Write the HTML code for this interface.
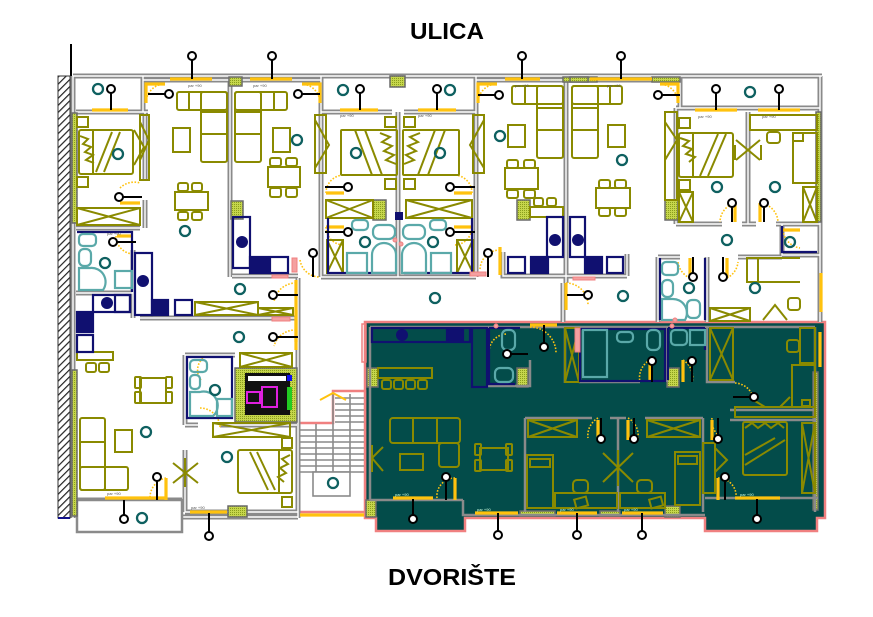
<!DOCTYPE html>
<html><head><meta charset="utf-8">
<style>
html,body{margin:0;padding:0;background:#fff;}
svg{display:block;}
</style></head><body>
<svg width="873" height="617" viewBox="0 0 873 617" xmlns="http://www.w3.org/2000/svg">
<defs>
<pattern id="hatch" width="5" height="5" patternUnits="userSpaceOnUse" patternTransform="rotate(45)">
<rect width="5" height="5" fill="#fff"/><line x1="0" y1="0" x2="0" y2="5" stroke="#222" stroke-width="2.4"/>
</pattern>
<pattern id="grn" width="2" height="2" patternUnits="userSpaceOnUse"><rect width="2" height="2" fill="#c6d64c"/><rect width="1" height="1" fill="#8a9e1c"/></pattern>
<g id="W" fill="none">
<path d="M73 76 H822 M73 76 V518 M820 76 V322
M76 112 H148 M143 76 V112 M143 80 H230 M230 80 V277 M242 80 H321
M321 76 V277 M321 112 H392 M398 112 V277 M404 112 H476 M476 76 V277 M476 80 H568
M566 80 V283 M568 80 H680 M680 76 V108 M676 108 H820 M676 108 V224
M676 224 H722 M742 224 H756 M776 224 H820 M748 112 V224 M782 224 V255 H820
M658 257 H680 M738 257 H782 M658 257 V322 M707 257 V322
M145 112 V180 M145 200 V228 M76 228 H140 M76 293 H133 M133 250 V318 M140 318 H298
M298 278 V518 M232 276 H298 M321 277 H476 M503 252 V276 H627 M627 254 V276 M563 283 V322
M185 355 H235 M185 355 V425 M185 425 H198 M220 425 H297 M185 450 V512 M76 500 H182 M185 512 H298 M76 517 H298"/>
</g>
</defs>

<!-- titles -->
<text x="410" y="39" font-family="Liberation Sans, DejaVu Sans, sans-serif" font-weight="bold" font-size="23" textLength="74" lengthAdjust="spacingAndGlyphs">ULICA</text>
<text x="388" y="585" font-family="Liberation Sans, DejaVu Sans, sans-serif" font-weight="bold" font-size="23" textLength="128" lengthAdjust="spacingAndGlyphs">DVORIŠTE</text>

<!-- left hatch wall -->
<line x1="71" y1="44" x2="71" y2="76" stroke="#000" stroke-width="2"/>
<rect x="58" y="76" width="12" height="442" fill="url(#hatch)" stroke="#333" stroke-width="1"/>
<line x1="58" y1="518" x2="70" y2="518" stroke="#10108a" stroke-width="2"/>

<!-- dark apartment -->
<polygon points="365,322 825,322 825,518 817,518 817,531 705,531 705,518 465,518 465,531 376,531 376,518 365,518" fill="#034c4a" stroke="#f08080" stroke-width="2.5"/>
<rect x="362" y="324" width="4" height="38" fill="none" stroke="#f08080" stroke-width="1.5"/>

<!-- stairs -->
<polygon points="298,423 333,423 333,391 365,391 365,512 298,512" fill="#fff" stroke="#f08080" stroke-width="2.5"/>
<g stroke="#8a8a8a" stroke-width="1.6">
<line x1="300" y1="430" x2="364" y2="430"/><line x1="300" y1="436" x2="364" y2="436"/><line x1="300" y1="442" x2="364" y2="442"/>
<line x1="300" y1="448" x2="364" y2="448"/><line x1="300" y1="454" x2="364" y2="454"/><line x1="300" y1="460" x2="364" y2="460"/>
<line x1="300" y1="466" x2="364" y2="466"/><line x1="300" y1="472" x2="364" y2="472"/>
<line x1="335" y1="398" x2="364" y2="398"/><line x1="335" y1="404" x2="364" y2="404"/><line x1="335" y1="410" x2="364" y2="410"/>
<line x1="335" y1="416" x2="364" y2="416"/><line x1="335" y1="422" x2="364" y2="422"/>
<line x1="333" y1="394" x2="333" y2="472"/><line x1="316" y1="424" x2="316" y2="472"/><line x1="350" y1="394" x2="350" y2="472"/>
</g>
<rect x="313" y="472" width="37" height="24" fill="#fff" stroke="#8a8a8a" stroke-width="1.6"/>
<polyline points="320,400 333,393 346,400" fill="none" stroke="#ffc20e" stroke-width="2"/>

<!-- walls -->
<use href="#W" stroke="#8a8a8a" stroke-width="5"/>
<use href="#W" stroke="#fff" stroke-width="1.4"/>

<!-- balconies bottom left -->
<rect x="77" y="500" width="105" height="32" fill="#fff" stroke="#8a8a8a" stroke-width="2.5"/>

<!-- green hatched blocks -->
<g fill="url(#grn)" stroke="#6a6a6a" stroke-width="1.5">
<rect x="72" y="113" width="5" height="110"/><rect x="72" y="370" width="5" height="146"/>
<rect x="816" y="112" width="5" height="110"/>
<rect x="229" y="77" width="13" height="9"/><rect x="390" y="76" width="15" height="11"/>
<rect x="563" y="77" width="34" height="5"/><rect x="570" y="77" width="18" height="5"/><rect x="652" y="77" width="28" height="5"/>
<rect x="231" y="201" width="12" height="18"/><rect x="373" y="200" width="13" height="20"/>
<rect x="517" y="200" width="13" height="20"/><rect x="665" y="200" width="13" height="20"/>
<rect x="235" y="368" width="62" height="54"/>
<rect x="228" y="506" width="19" height="11"/>
<rect x="367" y="368" width="11" height="19"/><rect x="517" y="368" width="11" height="19"/><rect x="667" y="368" width="12" height="19"/>
<rect x="813" y="372" width="5" height="138"/>
<rect x="520" y="511" width="35" height="5"/><rect x="600" y="511" width="20" height="5"/><rect x="665" y="506" width="15" height="11"/>
<rect x="366" y="500" width="10" height="17"/>
</g>

<!-- elevator -->
<rect x="245" y="373" width="45" height="42" fill="#111"/>
<rect x="248" y="376" width="38" height="5" fill="#fff"/>
<rect x="247" y="392" width="13" height="11" fill="none" stroke="#e020e0" stroke-width="2"/>
<rect x="262" y="387" width="15" height="20" fill="none" stroke="#e020e0" stroke-width="2"/>
<rect x="287" y="387" width="5" height="23" fill="#22cc22"/>
<rect x="287" y="375" width="5" height="6" fill="#1010ee"/>

<!-- dark region walls -->
<path d="M370 327 V500 M370 327 H815 M815 327 V512 M488 327 V386 H530 V360 M565 327 V383 M580 328 V382 H640 M667 327 V382 M707 327 V382 H735
M525 418 H592 M610 418 H626 M645 418 H703 M525 418 V512 M618 418 V512 M703 418 V512 M730 410 H815 M730 420 H815 M370 500 H463 M463 500 V515 H705 M705 498 H818"
fill="none" stroke="#8a8a8a" stroke-width="2.5"/>

<!-- windows (yellow) -->
<g stroke="#ffc20e" stroke-width="3.2" fill="none">
<line x1="170" y1="79" x2="212" y2="79"/><line x1="250" y1="79" x2="292" y2="79"/>
<line x1="505" y1="79" x2="540" y2="79"/><line x1="590" y1="79" x2="652" y2="79"/>
<line x1="92" y1="110" x2="128" y2="110"/><line x1="340" y1="110" x2="378" y2="110"/><line x1="418" y1="110" x2="456" y2="110"/>
<line x1="695" y1="110" x2="737" y2="110"/><line x1="758" y1="110" x2="800" y2="110"/>
<polyline points="146,103 146,84 165,84"/><polyline points="320,103 320,84 302,84"/>
<polyline points="478,103 478,84 497,84"/><polyline points="678,103 678,84 660,84"/>
<line x1="105" y1="498" x2="167" y2="498"/><line x1="190" y1="512" x2="227" y2="512"/>
<line x1="300" y1="515" x2="364" y2="515"/>
<line x1="393" y1="498" x2="433" y2="498"/><line x1="475" y1="513" x2="518" y2="513"/>
<line x1="557" y1="513" x2="597" y2="513"/><line x1="622" y1="513" x2="663" y2="513"/>
<line x1="735" y1="498" x2="780" y2="498"/>
<line x1="296" y1="280" x2="296" y2="342"/><line x1="296" y1="310" x2="296" y2="350"/>
<line x1="566" y1="283" x2="566" y2="310"/><line x1="500" y1="247" x2="500" y2="275"/>
<line x1="821" y1="273" x2="821" y2="312"/><line x1="820" y1="332" x2="820" y2="367"/>
<line x1="530" y1="325" x2="557" y2="325"/><line x1="650" y1="360" x2="650" y2="382"/><line x1="683" y1="360" x2="683" y2="382"/>
<line x1="598" y1="420" x2="598" y2="440"/><line x1="628" y1="420" x2="628" y2="440"/><line x1="712" y1="420" x2="712" y2="440"/>
<line x1="455" y1="478" x2="455" y2="500"/><line x1="718" y1="478" x2="718" y2="500"/>
<line x1="735" y1="203" x2="735" y2="222"/><line x1="760" y1="203" x2="760" y2="222"/>
<line x1="690" y1="258" x2="690" y2="278"/><line x1="727" y1="258" x2="727" y2="278"/>
<line x1="783" y1="230" x2="800" y2="230"/><line x1="120" y1="203" x2="140" y2="203"/><line x1="117" y1="236" x2="133" y2="236"/>
<line x1="326" y1="193" x2="344" y2="193"/><line x1="454" y1="193" x2="472" y2="193"/>
<line x1="326" y1="227" x2="344" y2="227"/><line x1="454" y1="227" x2="472" y2="227"/>
<line x1="136" y1="414" x2="165" y2="414" stroke-width="0"/>
<line x1="202" y1="408" x2="232" y2="408" stroke-width="0"/>
<line x1="544" y1="357" x2="544" y2="380" stroke-width="0"/>
<line x1="313" y1="262" x2="313" y2="277" stroke-width="0"/>
<line x1="166" y1="478" x2="166" y2="500"/>
<line x1="200" y1="352" x2="200" y2="367" stroke-width="0"/>
</g>
<!-- door swings -->
<g stroke="#ffc20e" stroke-width="1.6" stroke-dasharray="1.6 1.6" fill="none">
<path d="M146 103 A19 19 0 0 1 165 84"/><path d="M320 103 A19 19 0 0 0 302 84"/>
<path d="M478 103 A19 19 0 0 1 497 84"/><path d="M678 103 A19 19 0 0 0 660 84"/>
<path d="M120 188 A20 20 0 0 1 140 183"/><path d="M116 236 A18 18 0 0 0 134 254"/>
<path d="M326 193 A18 18 0 0 1 344 175"/><path d="M472 193 A18 18 0 0 0 454 175"/>
<path d="M326 227 A18 18 0 0 0 344 245"/><path d="M472 227 A18 18 0 0 1 454 245"/>
<path d="M300 260 A20 20 0 0 0 320 277"/><path d="M500 250 A20 20 0 0 0 480 270"/>
<path d="M296 283 A22 22 0 0 0 274 302"/><path d="M296 330 A22 22 0 0 0 274 346"/>
<path d="M566 283 A22 22 0 0 1 588 305"/>
<path d="M735 203 A20 20 0 0 0 720 222"/><path d="M760 203 A20 20 0 0 1 778 222"/>
<path d="M783 230 A20 20 0 0 0 800 248"/>
<path d="M690 278 A20 20 0 0 1 678 262"/><path d="M727 278 A20 20 0 0 0 738 262"/>
<path d="M200 408 A20 20 0 0 1 220 428"/><path d="M166 478 A20 20 0 0 0 150 498"/>
<path d="M201 380 A16 16 0 0 1 206 356"/>
<path d="M530 327 A26 26 0 0 1 556 353"/><path d="M489 352 A18 18 0 0 1 507 334"/>
<path d="M650 360 A20 20 0 0 0 640 382"/><path d="M683 360 A20 20 0 0 1 692 382"/>
<path d="M735 383 A20 20 0 0 1 754 402"/>
<path d="M598 418 A20 20 0 0 0 588 438"/><path d="M628 418 A20 20 0 0 1 638 438"/>
<path d="M712 418 A20 20 0 0 0 722 438"/>
<path d="M455 478 A18 18 0 0 0 437 498"/><path d="M718 478 A18 18 0 0 1 736 498"/>
</g>

<!-- olive furniture -->
<g stroke="#8a8a00" stroke-width="2" fill="none">
<!-- unit1 -->
<rect x="177" y="92" width="50" height="18" rx="2"/><rect x="201" y="92" width="26" height="70" rx="2"/>
<line x1="201" y1="112" x2="227" y2="112"/><line x1="201" y1="134" x2="227" y2="134"/><line x1="189" y1="92" x2="189" y2="110"/>
<rect x="173" y="128" width="17" height="24"/>
<rect x="175" y="192" width="33" height="18"/>
<rect x="178" y="183" width="10" height="8" rx="2"/><rect x="192" y="183" width="10" height="8" rx="2"/>
<rect x="178" y="212" width="10" height="8" rx="2"/><rect x="192" y="212" width="10" height="8" rx="2"/>
<rect x="79" y="130" width="54" height="44" rx="2"/><line x1="93" y1="130" x2="93" y2="174"/>
<line x1="104" y1="172" x2="120" y2="132"/><line x1="96" y1="172" x2="112" y2="132"/>
<path d="M80 136 l8 3 -5 5 8 3 -6 5 8 3 -7 5 8 3"/>
<rect x="77" y="117" width="11" height="10"/><rect x="77" y="177" width="11" height="10"/>
<rect x="140" y="115" width="9" height="65"/><path d="M140 122 L149 140 L140 160 M134 130 L144 147 L134 165"/>
<rect x="77" y="208" width="63" height="17"/><path d="M77 208 L140 225 M77 225 L140 208"/>
<!-- unit2 -->
<rect x="235" y="92" width="52" height="18" rx="2"/><rect x="235" y="92" width="26" height="70" rx="2"/>
<line x1="235" y1="112" x2="261" y2="112"/><line x1="235" y1="134" x2="261" y2="134"/><line x1="274" y1="92" x2="274" y2="110"/>
<rect x="273" y="128" width="17" height="24"/>
<rect x="268" y="167" width="32" height="20"/>
<rect x="270" y="158" width="11" height="8" rx="2"/><rect x="286" y="158" width="11" height="8" rx="2"/>
<rect x="270" y="188" width="11" height="9" rx="2"/><rect x="286" y="188" width="11" height="9" rx="2"/>
<!-- studios -->
<rect x="341" y="130" width="56" height="45" rx="1"/><rect x="403" y="130" width="56" height="45" rx="1"/>
<path d="M355 130 L372 175 M365 130 L382 175 M445 130 L428 175 M435 130 L418 175"/>
<path d="M380 133 l10 4 -8 5 10 4 -8 5 10 4 -8 5 10 4 M420 133 l-10 4 8 5 -10 4 8 5 -10 4 8 5 -10 4"/>
<rect x="385" y="117" width="11" height="10"/><rect x="404" y="117" width="11" height="10"/>
<rect x="385" y="179" width="11" height="10"/><rect x="404" y="179" width="11" height="10"/>
<rect x="315" y="115" width="11" height="58"/><rect x="473" y="115" width="11" height="58"/>
<path d="M315 120 L329 145 L315 168 M484 120 L470 145 L484 168"/>
<rect x="326" y="200" width="47" height="18"/><path d="M326 200 L373 218 M326 218 L373 200"/>
<rect x="406" y="200" width="66" height="18"/><path d="M406 200 L472 218 M406 218 L472 200"/>
<rect x="327" y="240" width="16" height="33"/><path d="M327 240 L343 273 M327 273 L343 240"/>
<rect x="457" y="240" width="16" height="33"/><path d="M457 240 L473 273 M457 273 L473 240"/>
<!-- unit4 -->
<rect x="512" y="86" width="51" height="18" rx="2"/><rect x="537" y="86" width="26" height="72" rx="2"/>
<line x1="537" y1="108" x2="563" y2="108"/><line x1="537" y1="130" x2="563" y2="130"/><line x1="525" y1="86" x2="525" y2="104"/>
<rect x="508" y="125" width="17" height="22"/>
<rect x="505" y="168" width="33" height="21"/>
<rect x="507" y="160" width="11" height="8" rx="2"/><rect x="524" y="160" width="11" height="8" rx="2"/>
<rect x="507" y="190" width="11" height="8" rx="2"/><rect x="524" y="190" width="11" height="8" rx="2"/>
<rect x="530" y="207" width="33" height="10"/><rect x="534" y="198" width="9" height="8" rx="2"/><rect x="547" y="198" width="9" height="8" rx="2"/>
<!-- unit5 -->
<rect x="572" y="86" width="50" height="18" rx="2"/><rect x="572" y="86" width="26" height="72" rx="2"/>
<line x1="572" y1="108" x2="598" y2="108"/><line x1="572" y1="130" x2="598" y2="130"/><line x1="610" y1="86" x2="610" y2="104"/>
<rect x="608" y="125" width="17" height="22"/>
<rect x="596" y="188" width="34" height="20"/>
<rect x="599" y="180" width="11" height="8" rx="2"/><rect x="615" y="180" width="11" height="8" rx="2"/>
<rect x="599" y="208" width="11" height="8" rx="2"/><rect x="615" y="208" width="11" height="8" rx="2"/>
<!-- right unit -->
<rect x="679" y="133" width="54" height="44" rx="2"/><line x1="693" y1="133" x2="693" y2="177"/>
<path d="M700 176 L718 134 M708 176 L726 134 M680 138 l9 3 -6 5 9 3 -6 5 9 3 -6 5"/>
<rect x="679" y="118" width="11" height="10"/><rect x="679" y="180" width="11" height="10"/>
<rect x="665" y="112" width="12" height="88"/><path d="M665 122 L677 140 L665 160"/>
<rect x="679" y="192" width="14" height="30"/><path d="M679 192 L693 222 M679 222 L693 192"/>
<path d="M736 140 L748 150 L736 160 M760 140 L748 150 L760 160 M735 145 V160 M761 145 V160"/>
<rect x="750" y="115" width="67" height="15"/><rect x="767" y="132" width="13" height="11" rx="3"/>
<rect x="793" y="133" width="24" height="50"/><rect x="793" y="133" width="10" height="8"/>
<rect x="803" y="187" width="14" height="35"/><path d="M803 187 L817 222 M803 222 L817 187"/>
<rect x="747" y="258" width="11" height="24"/><line x1="747" y1="282" x2="800" y2="282"/><line x1="758" y1="258" x2="800" y2="258"/>
<rect x="788" y="298" width="12" height="12" rx="3"/><path d="M763 320 L775 305 L787 320"/>
<rect x="710" y="308" width="40" height="13"/><path d="M710 308 L750 321 M710 321 L750 308"/>
<!-- lower left unit -->
<rect x="77" y="352" width="36" height="8"/>
<rect x="86" y="363" width="10" height="9" rx="2"/><rect x="99" y="363" width="10" height="9" rx="2"/>
<rect x="140" y="378" width="26" height="25"/>
<rect x="135" y="377" width="6" height="11" rx="1"/><rect x="135" y="392" width="6" height="11" rx="1"/>
<rect x="166" y="377" width="6" height="11" rx="1"/><rect x="166" y="392" width="6" height="11" rx="1"/>
<rect x="80" y="418" width="25" height="72" rx="2"/><rect x="80" y="467" width="48" height="23" rx="2"/>
<line x1="80" y1="442" x2="105" y2="442"/><line x1="105" y1="467" x2="105" y2="490"/>
<rect x="115" y="430" width="17" height="22"/>
<path d="M173 463 L198 483 M173 483 L198 463 M185 458 V487"/>
<rect x="238" y="450" width="54" height="43" rx="2"/><line x1="279" y1="450" x2="279" y2="493"/>
<path d="M250 452 L268 490 M257 452 L275 490 M290 455 l-8 4 6 5 -8 4 6 5 -8 4 6 5"/>
<rect x="282" y="438" width="10" height="10"/><rect x="282" y="497" width="10" height="10"/>
<rect x="240" y="353" width="52" height="14"/><path d="M240 353 L292 367 M240 367 L292 353"/>
<rect x="213" y="423" width="77" height="14"/><path d="M213 423 L290 437 M213 437 L290 423"/>
<rect x="195" y="302" width="63" height="13"/><path d="M195 302 L258 315 M195 315 L258 302"/>
<rect x="258" y="308" width="35" height="7"/><path d="M258 308 L293 315 M258 315 L293 308"/>
<!-- dark region furniture -->
<rect x="378" y="368" width="54" height="10"/>
<rect x="382" y="380" width="9" height="9" rx="2"/><rect x="394" y="380" width="9" height="9" rx="2"/>
<rect x="406" y="380" width="9" height="9" rx="2"/><rect x="418" y="380" width="9" height="9" rx="2"/>
<rect x="390" y="418" width="70" height="25" rx="3"/><line x1="413" y1="418" x2="413" y2="443"/><line x1="437" y1="418" x2="437" y2="443"/>
<rect x="439" y="443" width="20" height="24" rx="3"/>
<rect x="400" y="454" width="23" height="16"/>
<path d="M372 445 V472 M372 458 L383 447 M372 458 L383 471"/>
<rect x="480" y="448" width="28" height="22"/>
<rect x="475" y="444" width="6" height="11" rx="1"/><rect x="475" y="460" width="6" height="11" rx="1"/>
<rect x="506" y="444" width="6" height="11" rx="1"/><rect x="506" y="460" width="6" height="11" rx="1"/>
<rect x="565" y="328" width="14" height="54"/><path d="M565 328 L579 382 M565 382 L579 328"/>
<rect x="710" y="328" width="23" height="52"/><path d="M710 328 L733 380 M710 380 L733 328"/>
<rect x="800" y="328" width="15" height="35"/><rect x="787" y="340" width="12" height="12" rx="3"/>
<rect x="792" y="365" width="23" height="42"/><rect x="802" y="400" width="8" height="6"/>
<rect x="735" y="407" width="80" height="10"/><path d="M765 407 L750 398 M780 407 L790 397"/>
<rect x="743" y="422" width="44" height="53" rx="2"/><path d="M745 428 l7 -5 6 5 7 -5 6 5 7 -5 6 5 M745 465 L785 440 M745 455 L775 438"/>
<rect x="802" y="423" width="13" height="70"/><path d="M802 423 L815 493 M802 493 L815 423"/>
<rect x="703" y="443" width="12" height="50"/><path d="M715 448 L727 460 L715 472"/>
<rect x="527" y="455" width="26" height="53"/><rect x="530" y="459" width="20" height="8"/>
<rect x="555" y="493" width="62" height="15"/><rect x="573" y="480" width="15" height="13" rx="4"/>
<rect x="575" y="498" width="12" height="9" transform="rotate(-15 581 502)"/>
<path d="M603 453 L633 482 M603 482 L633 453 M618 450 V486"/>
<rect x="620" y="493" width="45" height="15"/><rect x="637" y="480" width="15" height="13" rx="4"/>
<rect x="650" y="498" width="12" height="9" transform="rotate(-15 656 502)"/>
<rect x="675" y="452" width="25" height="53"/><rect x="678" y="456" width="19" height="8"/>
<rect x="528" y="420" width="49" height="17"/><path d="M528 420 L577 437 M528 437 L577 420"/>
<rect x="647" y="420" width="53" height="17"/><path d="M647 420 L700 437 M647 437 L700 420"/>
</g>

<!-- navy kitchens / bath outlines -->
<g stroke="#101070" stroke-width="2.2" fill="none">
<rect x="135" y="253" width="17" height="62"/><rect x="152" y="300" width="16" height="15" fill="#101070"/><rect x="175" y="300" width="17" height="15"/>
<rect x="233" y="217" width="17" height="51"/><rect x="250" y="257" width="18" height="16" fill="#101070"/><rect x="270" y="257" width="18" height="16"/>
<rect x="547" y="217" width="16" height="40"/><rect x="508" y="257" width="17" height="16"/><rect x="531" y="257" width="17" height="16" fill="#101070"/>
<rect x="570" y="217" width="15" height="40"/><rect x="585" y="257" width="17" height="16" fill="#101070"/><rect x="607" y="257" width="16" height="16"/>
<rect x="77" y="312" width="16" height="20" fill="#101070"/><rect x="77" y="335" width="16" height="17"/>
<rect x="93" y="295" width="37" height="17"/><rect x="115" y="295" width="15" height="17"/>
<path d="M77 232 H132 V292 M328 218 V273 H396 M472 218 V273 H404 M187 357 H232 V418 H187 Z M660 258 V320 M705 258 V320 M782 226 V252 H817"/>
<rect x="372" y="328" width="98" height="14"/><rect x="447" y="329" width="16" height="12" fill="#101070"/>
<rect x="472" y="328" width="15" height="59"/>
<path d="M489 328 V384 H515 M520 328 H489"/>
<rect x="580" y="329" width="85" height="52"/>
<path d="M668 328 V380 M668 328 H705 M705 328 V350"/>
</g>
<g fill="#101070">
<circle cx="143" cy="281" r="6"/><circle cx="242" cy="242" r="6"/><circle cx="555" cy="240" r="6"/><circle cx="578" cy="240" r="6"/>
<circle cx="107" cy="303" r="6"/><circle cx="402" cy="335" r="6"/>
<rect x="395" y="212" width="8" height="8"/>
</g>

<!-- light teal fixtures -->
<g stroke="#5aa9a9" stroke-width="2.2" fill="none">
<rect x="79" y="234" width="17" height="12" rx="4"/><rect x="79" y="249" width="12" height="17" rx="5"/>
<path d="M79 268 H90 A14 14 0 0 1 103 290 H79 Z"/><rect x="115" y="271" width="17" height="17"/>
<rect x="352" y="220" width="16" height="10" rx="4"/><rect x="430" y="220" width="16" height="10" rx="4"/>
<rect x="373" y="225" width="22" height="14" rx="6"/><rect x="403" y="225" width="22" height="14" rx="6"/>
<path d="M372 273 V255 A12 12 0 0 1 396 255 V273 Z M402 273 V255 A12 12 0 0 1 426 255 V273 Z"/>
<rect x="347" y="253" width="20" height="20"/><rect x="431" y="253" width="20" height="20"/>
<rect x="190" y="360" width="17" height="12" rx="4"/><rect x="190" y="375" width="10" height="14" rx="4"/>
<path d="M190 392 H200 A14 14 0 0 1 213 416 H190 Z"/><rect x="217" y="399" width="15" height="17"/>
<rect x="662" y="262" width="16" height="13" rx="4"/><rect x="662" y="280" width="11" height="17" rx="5"/>
<path d="M662 299 H672 A14 14 0 0 1 685 320 H662 Z"/><rect x="687" y="300" width="13" height="18" rx="5"/>
<rect x="502" y="330" width="13" height="20" rx="5"/><rect x="495" y="368" width="18" height="14" rx="5"/>
<rect x="583" y="330" width="24" height="47"/><rect x="617" y="332" width="16" height="10" rx="4"/><rect x="647" y="330" width="13" height="20" rx="5"/>
<rect x="671" y="330" width="16" height="15" rx="4"/><rect x="690" y="330" width="15" height="15"/>
</g>

<!-- pink bits -->
<g fill="#f4a0a0" stroke="#f08080" stroke-width="1">
<rect x="292" y="258" width="5" height="14"/><rect x="272" y="275" width="16" height="3"/>
<rect x="470" y="272" width="16" height="4"/><rect x="573" y="277" width="22" height="3"/>
<rect x="272" y="317" width="18" height="4"/><rect x="575" y="328" width="5" height="24"/>
<circle cx="395" cy="240" r="2"/><circle cx="401" cy="244" r="2"/>
<circle cx="496" cy="326" r="2"/><circle cx="672" cy="326" r="2"/><circle cx="675" cy="320" r="2"/>
<rect x="70" y="270" width="0" height="0"/>
</g>

<!-- teal room circles -->
<g stroke="#0e6060" stroke-width="2.3" fill="none">
<circle cx="98" cy="89" r="5"/><circle cx="118" cy="154" r="5"/><circle cx="185" cy="231" r="5"/><circle cx="297" cy="140" r="5"/>
<circle cx="240" cy="289" r="5"/><circle cx="105" cy="263" r="5"/>
<circle cx="343" cy="90" r="5"/><circle cx="450" cy="90" r="5"/><circle cx="356" cy="153" r="5"/><circle cx="440" cy="153" r="5"/>
<circle cx="365" cy="242" r="5"/><circle cx="433" cy="242" r="5"/><circle cx="500" cy="136" r="5"/><circle cx="435" cy="298" r="5"/>
<circle cx="750" cy="92" r="5"/><circle cx="622" cy="160" r="5"/><circle cx="717" cy="187" r="5"/><circle cx="775" cy="187" r="5"/>
<circle cx="727" cy="240" r="5"/><circle cx="790" cy="242" r="5"/><circle cx="623" cy="296" r="5"/><circle cx="689" cy="288" r="5"/><circle cx="755" cy="288" r="5"/>
<circle cx="239" cy="337" r="5"/><circle cx="215" cy="390" r="5"/><circle cx="146" cy="432" r="5"/><circle cx="227" cy="457" r="5"/>
<circle cx="333" cy="483" r="5"/><circle cx="142" cy="518" r="5"/>
</g>

<!-- pins -->
<g stroke="#000" stroke-width="2">
<line x1="192" y1="56" x2="192" y2="79"/><line x1="272" y1="56" x2="272" y2="79"/><line x1="522" y1="56" x2="522" y2="79"/><line x1="621" y1="56" x2="621" y2="79"/>
<line x1="111" y1="89" x2="111" y2="110"/><line x1="360" y1="89" x2="360" y2="110"/><line x1="437" y1="89" x2="437" y2="110"/><line x1="716" y1="89" x2="716" y2="110"/><line x1="779" y1="89" x2="779" y2="110"/>
<line x1="169" y1="94" x2="148" y2="94"/><line x1="298" y1="94" x2="320" y2="94"/><line x1="499" y1="95" x2="478" y2="95"/><line x1="658" y1="95" x2="680" y2="95"/>
<line x1="119" y1="197" x2="142" y2="197"/><line x1="113" y1="242" x2="136" y2="242"/>
<line x1="348" y1="187" x2="325" y2="187"/><line x1="450" y1="187" x2="475" y2="187"/>
<line x1="348" y1="232" x2="325" y2="232"/><line x1="450" y1="232" x2="475" y2="232"/>
<line x1="313" y1="253" x2="313" y2="277"/><line x1="488" y1="253" x2="488" y2="277"/>
<line x1="273" y1="295" x2="298" y2="295"/><line x1="273" y1="337" x2="298" y2="337"/><line x1="588" y1="295" x2="567" y2="295"/>
<line x1="732" y1="203" x2="732" y2="222"/><line x1="764" y1="203" x2="764" y2="222"/>
<line x1="693" y1="277" x2="693" y2="257"/><line x1="723" y1="277" x2="723" y2="257"/>
<line x1="157" y1="477" x2="157" y2="500"/><line x1="124" y1="519" x2="124" y2="500"/><line x1="209" y1="536" x2="209" y2="513"/>
<line x1="507" y1="354" x2="528" y2="354"/><line x1="544" y1="347" x2="544" y2="325"/>
<line x1="652" y1="361" x2="652" y2="382"/><line x1="692" y1="361" x2="692" y2="382"/><line x1="754" y1="397" x2="733" y2="397"/>
<line x1="601" y1="439" x2="601" y2="418"/><line x1="634" y1="439" x2="634" y2="418"/><line x1="718" y1="439" x2="718" y2="418"/>
<line x1="446" y1="477" x2="446" y2="500"/><line x1="725" y1="477" x2="725" y2="500"/>
<line x1="413" y1="519" x2="413" y2="499"/><line x1="757" y1="519" x2="757" y2="499"/>
<line x1="498" y1="535" x2="498" y2="513"/><line x1="577" y1="535" x2="577" y2="513"/><line x1="642" y1="535" x2="642" y2="513"/>
</g>
<g stroke="#000" stroke-width="2" fill="#fff">
<circle cx="192" cy="56" r="4"/><circle cx="272" cy="56" r="4"/><circle cx="522" cy="56" r="4"/><circle cx="621" cy="56" r="4"/>
<circle cx="111" cy="89" r="4"/><circle cx="360" cy="89" r="4"/><circle cx="437" cy="89" r="4"/><circle cx="716" cy="89" r="4"/><circle cx="779" cy="89" r="4"/>
<circle cx="169" cy="94" r="4"/><circle cx="298" cy="94" r="4"/><circle cx="499" cy="95" r="4"/><circle cx="658" cy="95" r="4"/>
<circle cx="119" cy="197" r="4"/><circle cx="113" cy="242" r="4"/><circle cx="348" cy="187" r="4"/><circle cx="450" cy="187" r="4"/>
<circle cx="348" cy="232" r="4"/><circle cx="450" cy="232" r="4"/><circle cx="313" cy="253" r="4"/><circle cx="488" cy="253" r="4"/>
<circle cx="273" cy="295" r="4"/><circle cx="273" cy="337" r="4"/><circle cx="588" cy="295" r="4"/>
<circle cx="732" cy="203" r="4"/><circle cx="764" cy="203" r="4"/><circle cx="693" cy="277" r="4"/><circle cx="723" cy="277" r="4"/>
<circle cx="157" cy="477" r="4"/><circle cx="124" cy="519" r="4"/><circle cx="209" cy="536" r="4"/>
<circle cx="507" cy="354" r="4"/><circle cx="544" cy="347" r="4"/><circle cx="652" cy="361" r="4"/><circle cx="692" cy="361" r="4"/><circle cx="754" cy="397" r="4"/>
<circle cx="601" cy="439" r="4"/><circle cx="634" cy="439" r="4"/><circle cx="718" cy="439" r="4"/>
<circle cx="446" cy="477" r="4"/><circle cx="725" cy="477" r="4"/><circle cx="413" cy="519" r="4"/><circle cx="757" cy="519" r="4"/>
<circle cx="498" cy="535" r="4"/><circle cx="577" cy="535" r="4"/><circle cx="642" cy="535" r="4"/>
</g>

<!-- tiny labels -->
<g font-family="Liberation Sans, sans-serif" font-size="4" fill="#555">
<text x="107" y="235">par +90</text><text x="188" y="87">par +90</text><text x="253" y="87">par +90</text>
<text x="340" y="117">par +90</text><text x="418" y="117">par +90</text><text x="515" y="87">par +90</text>
<text x="607" y="87">par +90</text><text x="698" y="118">par +90</text><text x="762" y="118">par +90</text>
<text x="107" y="495">par +90</text><text x="191" y="509">par +90</text>
</g>
<g font-family="Liberation Sans, sans-serif" font-size="4" fill="#cfd">
<text x="395" y="496">par +90</text><text x="477" y="511">par +90</text><text x="560" y="511">par +90</text>
<text x="624" y="511">par +90</text><text x="740" y="496">par +90</text>
</g>
</svg>
</body></html>
